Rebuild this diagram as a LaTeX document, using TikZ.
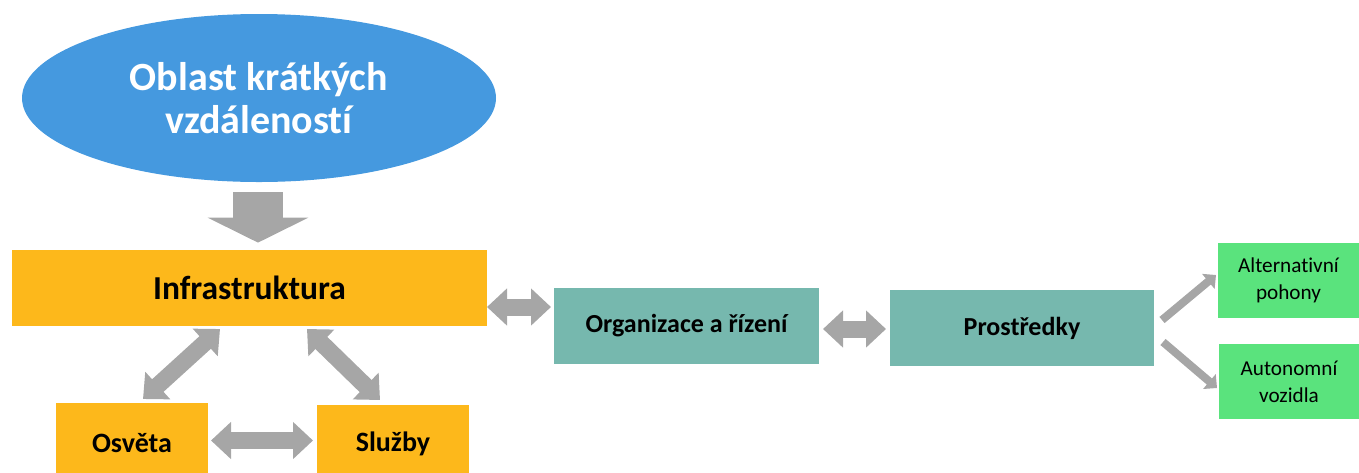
\documentclass[tikz,border=0pt]{standalone}
\usepackage{fontspec}
\setmainfont{Carlito}[Ligatures=NoCommon]
\usetikzlibrary{shapes.geometric,arrows.meta}
\definecolor{ellblue}{RGB}{69,153,223}
\definecolor{boxorange}{RGB}{253,184,27}
\definecolor{boxteal}{RGB}{118,184,174}
\definecolor{boxgreen}{RGB}{90,227,125}
\definecolor{arrgray}{RGB}{166,166,166}
\tikzset{
  orangebox/.style={rectangle, fill=boxorange, inner sep=0pt, font=\bfseries\fontsize{14pt}{17pt}\selectfont},
  tealbox/.style={rectangle, fill=boxteal, inner sep=0pt, font=\bfseries\fontsize{13pt}{16pt}\selectfont},
  greenbox/.style={rectangle, fill=boxgreen, inner sep=0pt, align=center, font=\fontsize{10.6pt}{13.5pt}\selectfont},
  fatarrow/.style={draw=arrgray, line width=8.5pt, {Triangle[width=18pt,length=10pt]}-{Triangle[width=18pt,length=10pt]}},
  thinarrow/.style={draw=arrgray, line width=4pt, -{Triangle[width=9.5pt,length=5pt]}},
}
\begin{document}
\begin{tikzpicture}[x=0.5pt,y=-0.5pt]
\useasboundingbox (0,0) rectangle (1359,472);
\clip (0,0) rectangle (1359,472);
% nodes
\node[ellipse, fill=ellblue, minimum width=237pt, minimum height=84pt, inner sep=0pt,
      text=white, align=center, font=\bfseries\fontsize{20pt}{21.5pt}\selectfont]
      (ell) at (259,98) {Oblast krátkých\\vzdáleností};
\node[orangebox, minimum width=237.5pt, minimum height=38pt, font=\bfseries\fontsize{16.75pt}{19pt}\selectfont] (infra) at (249.5,288) {Infrastruktura};
\node[orangebox, minimum width=76pt, minimum height=40pt] (osv) at (132,443) {Osvěta};
\node[orangebox, minimum width=76pt, minimum height=39pt] (sl) at (393,444) {Služby};
\node[tealbox, minimum width=132.5pt, minimum height=38pt] (org) at (686.5,326) {Organizace a řízení};
\node[tealbox, minimum width=132pt, minimum height=38pt] (pro) at (1022,328) {Prostředky};
\node[greenbox, minimum width=70.5pt, minimum height=37.5pt] (alt) at (1288.5,280.5) {Alternativní\\pohony};
\node[greenbox, minimum width=70pt, minimum height=37.5pt] (aut) at (1289,381.5) {Autonomní\\vozidla};
% arrow end points
\coordinate (io1) at (487,307);
\coordinate (io2) at (551,307);
\coordinate (op1) at (823,329);
\coordinate (op2) at (886,329);
\coordinate (ia1) at (220,329);
\coordinate (ia2) at (143,399);
\coordinate (is1) at (307,329);
\coordinate (is2) at (380,400);
\coordinate (os1) at (211,440.5);
\coordinate (os2) at (313,440.5);
\coordinate (pa1) at (1162,320);
\coordinate (pa2) at (1216,275);
\coordinate (pb1) at (1163,342);
\coordinate (pb2) at (1217,388);
% connectors
\draw[draw=arrgray, line width=25pt, -{Triangle[width=50pt,length=12.5pt]}, shorten <=5pt, shorten >=3.5pt]
  ([xshift=-0.5pt]ell.south) -- ([xshift=4.25pt]infra.north);
\draw[fatarrow] (io1) -- (io2);
\draw[fatarrow] (op1) -- (op2);
\draw[fatarrow] (ia1) -- (ia2);
\draw[fatarrow] (is1) -- (is2);
\draw[fatarrow] (os1) -- (os2);
\draw[thinarrow] (pa1) -- (pa2);
\draw[thinarrow] (pb1) -- (pb2);
\end{tikzpicture}
\end{document}
